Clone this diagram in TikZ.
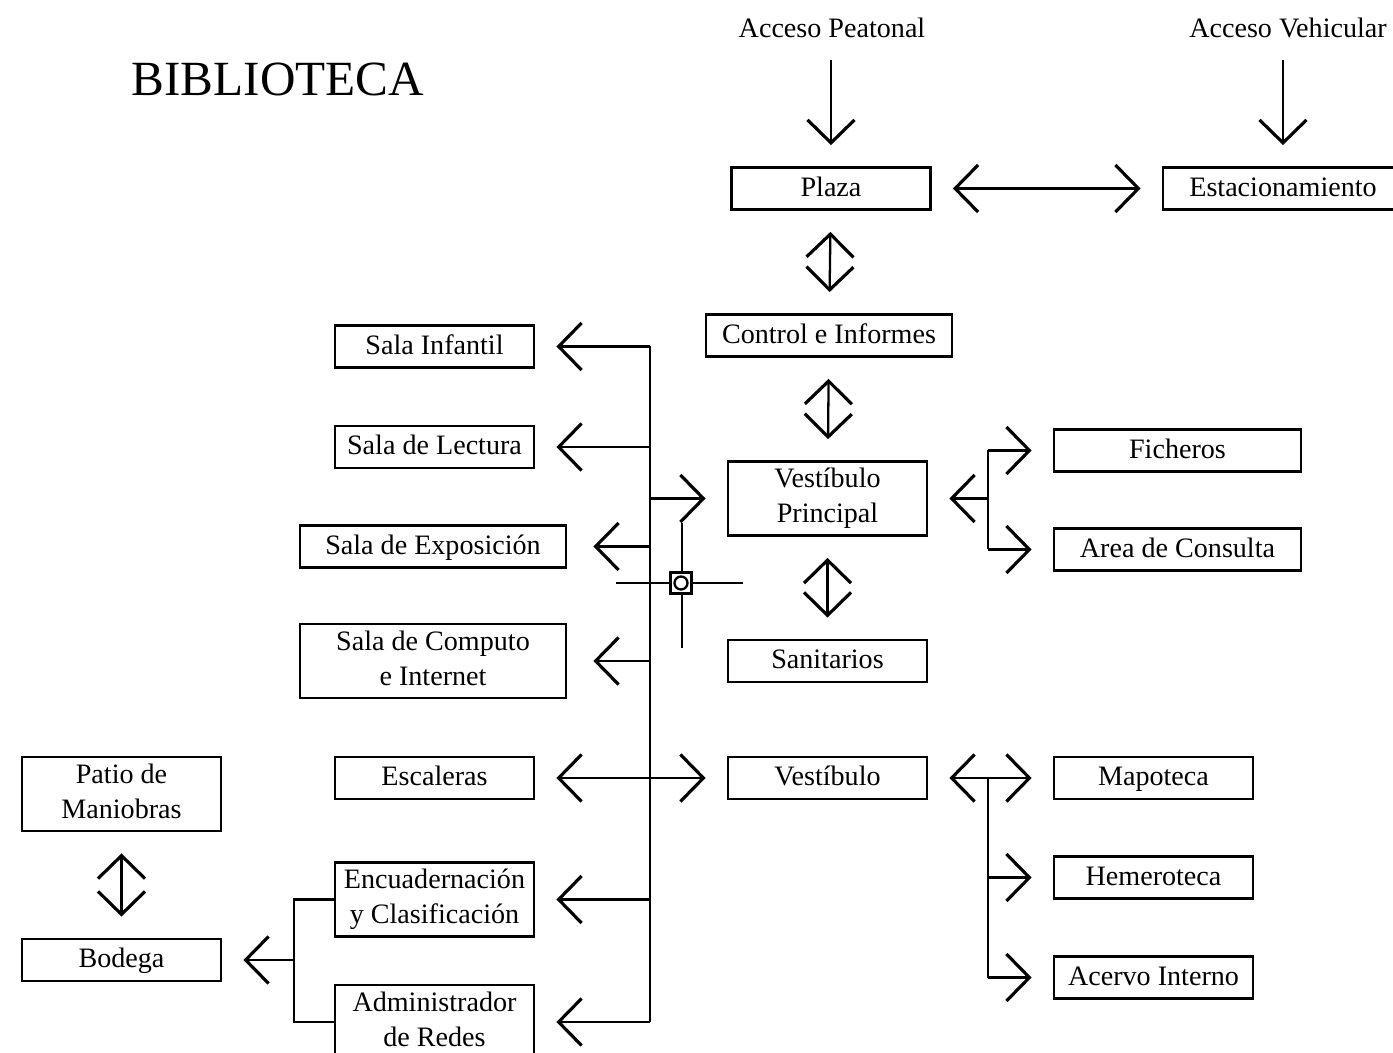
\documentclass[tikz,border=0pt]{standalone}
\usepackage{fontspec}
\setmainfont{Liberation Serif}
\usetikzlibrary{arrows.meta}
\definecolor{linecol}{RGB}{0, 0, 0}
\newcommand\boxstrut{\rule[-3pt]{0pt}{15pt}}
\tikzset{
  room/.style   = {draw=linecol, line width=1.6pt, align=center, inner sep=0pt,
                   font=\fontsize{16}{20}\selectfont,
                   execute at begin node=\boxstrut, execute at end node=\boxstrut,
                   minimum width=3.98cm, minimum height=0.84cm},
  wide/.style   = {room, minimum width=5.32cm},
  tall/.style   = {minimum height=1.48cm},
  access/.style = {font=\fontsize{16}{20}\selectfont, inner sep=0pt},
  link/.style   = {draw=linecol, line width=1.3pt},
  flow/.style   = {link, -{Straight Barb[length=4.6mm, width=9.4mm, line width=1.8pt]},
                   shorten >=4.2mm},
  both/.style   = {link, {Straight Barb[length=4.6mm, width=9.4mm, line width=1.8pt]}-{Straight Barb[length=4.6mm, width=9.4mm, line width=1.8pt]},
                   shorten >=4.2mm, shorten <=4.2mm},
  % the two entrances start a little below their labels
  feed/.style   = {flow, shorten <=4.4mm},
}

\begin{document}
\begin{tikzpicture}[x=0.02cm, y=-0.02cm]

  \useasboundingbox (0,0) rectangle (1393,1053);

  \node[font=\fontsize{28}{32}\selectfont] (title) at (278,79) {BIBLIOTECA};

  %% ---------------- entrances ----------------
  \node[access] (peatonal)  at (832,28)  {Acceso Peatonal};
  \node[access] (vehicular) at (1288,28) {Acceso Vehicular};

  \node[room] (plaza) at (831,188.5) {Plaza};
  \node[room, minimum width=4.8cm] (estac) at (1283,188.5) {Estacionamiento};

  \draw[feed] (plaza |- peatonal.south) -- (plaza);
  \draw[feed] (estac |- vehicular.south) -- (estac);
  \draw[both] (plaza) -- (estac);

  %% ---------------- central spine ----------------
  \node[room, minimum width=4.92cm] (control) at (829,335.5) {Control e Informes};
  \node[room, tall] (vestp)  at (827.5,498.5) {Vestíbulo\\Principal};
  \node[room] (sanitarios)   at (827.5,661)   {Sanitarios};
  \node[room] (vest)         at (827.5,778)   {Vestíbulo};

  \draw[both] (plaza) -- (control);
  \draw[both] (control) -- (vestp);
  \draw[both] (vestp) -- (sanitarios);

  %% ---------------- right side ----------------
  \coordinate (fork) at (988,0);
  \node[room, minimum width=4.94cm] (ficheros) at (1177.5,450.5) {Ficheros};
  \node[room, minimum width=4.94cm] (consulta) at (1177.5,549.5) {Area de Consulta};
  \node[room] (mapoteca) at (1153.5,778)   {Mapoteca};
  \node[room] (hemero)   at (1153.5,877.5) {Hemeroteca};
  \node[room] (acervo)   at (1153.5,977.5) {Acervo Interno};

  \draw[link] (ficheros -| fork) -- (consulta -| fork);
  \draw[flow] (fork |- vestp) -- (vestp);
  \draw[flow] (ficheros -| fork) -- (ficheros);
  \draw[flow] (consulta -| fork) -- (consulta);

  \draw[both] (vest) -- (mapoteca);
  \draw[link] (vest -| fork) -- (acervo -| fork);
  \draw[flow] (hemero -| fork) -- (hemero);
  \draw[flow] (acervo -| fork) -- (acervo);

  %% ---------------- left side ----------------
  \coordinate (trunk) at (650,0);
  \node[room] (infantil)        at (434.5,346.5) {Sala Infantil};
  \node[room] (lectura)         at (434.5,447)   {Sala de Lectura};
  \node[wide] (exposicion)      at (433,546.5)   {Sala de Exposición};
  \node[wide, tall] (computo)   at (433,661)     {Sala de Computo\\e Internet};
  \node[room] (escaleras)       at (434.5,778)   {Escaleras};
  \node[room, tall] (encuad)    at (434.5,899.5) {Encuadernación\\y Clasificación};
  \node[room, tall] (redes)     at (434.5,1022)  {Administrador\\de Redes};

  \draw[link] (infantil -| trunk) -- (redes -| trunk);
  \foreach \n in {infantil, lectura, encuad, redes}
    \draw[flow] (\n -| trunk) -- (\n);
  \foreach \n in {exposicion, computo}
    \draw[flow, shorten >=5.2mm] (\n -| trunk) -- (\n);
  \draw[flow] (vestp -| trunk) -- (vestp);
  \draw[both] (escaleras) -- (vest);

  %% ---------------- service yard ----------------
  \coordinate (split) at (294,0);
  \node[room, tall] (patio) at (121.5,794) {Patio de\\Maniobras};
  \node[room] (bodega)      at (121.5,960) {Bodega};

  \draw[both] (patio) -- (bodega);
  \draw[link] (encuad.west) -- (encuad -| split) -- (redes -| split) -- (redes.west);
  \draw[flow] (bodega -| split) -- (bodega);

  %% ---------------- crossing mark ----------------
  \draw[link] (616,583) -- (743,583);
  \draw[link] (682,523) -- (682,648);
  \node[draw=linecol, line width=1.3pt, fill=white, minimum size=0.42cm,
        inner sep=0pt] (mark) at (681,583) {};
  \draw[link] (mark.center) circle (0.13cm);

\end{tikzpicture}
\end{document}
